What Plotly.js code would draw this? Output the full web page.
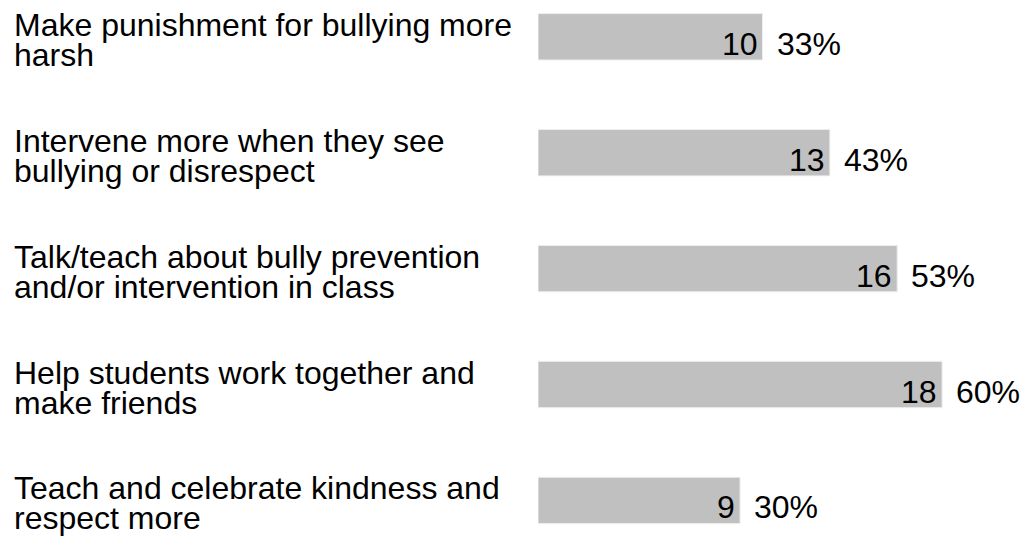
<!DOCTYPE html>
<html>
<head>
<meta charset="utf-8">
<script src="https://cdn.plot.ly/plotly-3.0.1.min.js"></script>
<style>body{margin:0;background:#fff}</style>
</head>
<body>
<div id="chart" style="width:1027px;height:536px"></div>
<script>
// ---- data ----
const labelLine1 = [
  "Make punishment for bullying more",
  "Intervene more when they see",
  "Talk/teach about bully prevention",
  "Help students work together and",
  "Teach and celebrate kindness and"
];
const labelLine2 = [
  "harsh",
  "bullying or disrespect",
  "and/or intervention in class",
  "make friends",
  "respect more"
];
const categories = labelLine1.map((a, i) => a + " " + labelLine2[i]);
const counts = [10, 13, 16, 18, 9];
const percents = [33, 43, 53, 60, 30];

// ---- layout constants ----
const W = 1027, H = 536, ML = 538, MR = 0;
const plotW = W - ML - MR;
const FONT = "Liberation Sans, Arial, sans-serif";
const FS = 32;

const trace = {
  type: "bar",
  orientation: "h",
  y: categories,
  x: counts,
  marker: { color: "#c0c0c0", line: { color: "#eeeeee", width: 1 } },
  hoverinfo: "none",
  textposition: "none"
};

const annotations = [];
categories.forEach((c, i) => {
  annotations.push({
    xref: "paper", yref: "y", x: (12 - ML) / plotW, y: c,
    xanchor: "left", yanchor: "middle", yshift: 12,
    text: labelLine1[i], showarrow: false,
    font: { family: FONT, size: FS, color: "#000" }
  });
  annotations.push({
    xref: "paper", yref: "y", x: (12 - ML) / plotW, y: c,
    xanchor: "left", yanchor: "middle", yshift: -18,
    text: labelLine2[i], showarrow: false,
    font: { family: FONT, size: FS, color: "#000" }
  });
  annotations.push({
    xref: "x", yref: "y", x: counts[i], y: c,
    xanchor: "right", yanchor: "middle", xshift: -3, yshift: -7,
    text: String(counts[i]), showarrow: false,
    font: { family: FONT, size: FS, color: "#000" }
  });
  annotations.push({
    xref: "x", yref: "y", x: counts[i], y: c,
    xanchor: "left", yanchor: "middle", xshift: 12, yshift: -7,
    text: percents[i] + "%", showarrow: false,
    font: { family: FONT, size: FS, color: "#000" }
  });
});

const layout = {
  width: W, height: H,
  margin: { l: ML, r: MR, t: 0, b: 0, pad: 0 },
  paper_bgcolor: "#ffffff", plot_bgcolor: "#ffffff",
  font: { family: FONT, size: FS, color: "#000" },
  showlegend: false,
  bargap: 0.6,
  xaxis: { range: [0, plotW / 22.45], visible: false, fixedrange: true },
  yaxis: { type: "category", range: [4.307, -0.3175], visible: false, fixedrange: true },
  annotations: annotations
};

Plotly.newPlot("chart", [trace], layout, { displayModeBar: false, staticPlot: true });
</script>
</body>
</html>
